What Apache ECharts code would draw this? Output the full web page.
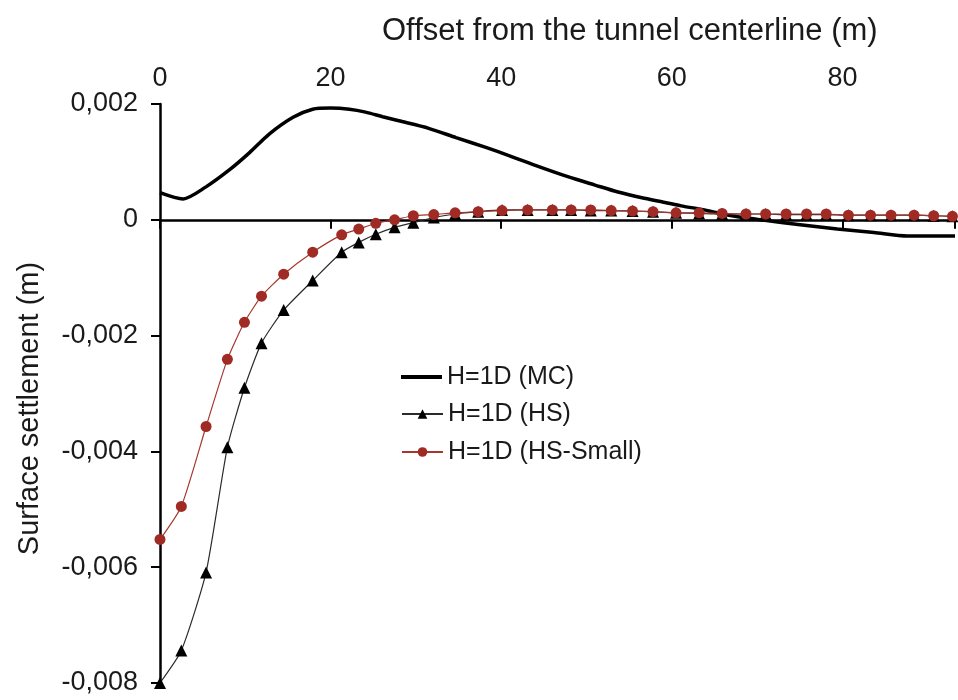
<!DOCTYPE html>
<html>
<head>
<meta charset="utf-8">
<script src="https://cdn.jsdelivr.net/npm/echarts@6/dist/echarts.min.js"></script>
<style>
  html, body { margin: 0; padding: 0; background: #fff; }
  #chart { width: 958px; height: 700px; }
</style>
</head>
<body>
<div id="chart"></div>
<script>
// Offsets (m) of the surface nodes used by the HS models
const nodeOffsets = [0, 2.5, 5.4, 7.9, 9.9, 11.9, 14.5, 17.9, 21.3, 23.3, 25.3, 27.5,
  29.7, 32.1, 34.6, 37.3, 40.1, 43.1, 46.0, 48.2, 50.5, 52.9, 55.4, 57.8, 60.5,
  63.2, 65.9, 68.7, 71.0, 73.4, 75.8, 78.1, 80.7, 83.3, 85.7, 88.4, 90.7, 92.9];

// H=1D (HS) surface settlement (m)
const settlementHS = [-0.00800, -0.00744, -0.00609, -0.00393, -0.00290, -0.00213, -0.00156,
  -0.00105, -0.00056, -0.00039, -0.00025, -0.00013, -0.00005, 0.00004, 0.00010, 0.00014,
  0.00017, 0.00017, 0.00017, 0.00017, 0.00016, 0.00016, 0.00015, 0.00014, 0.00012,
  0.00011, 0.00010, 0.00010, 0.00010, 0.00009, 0.00009, 0.00009, 0.00008, 0.00008,
  0.00008, 0.00008, 0.00007, 0.00006];

// H=1D (HS-Small) surface settlement (m)
const settlementHSSmall = [-0.00552, -0.00495, -0.00357, -0.00241, -0.00177, -0.00132, -0.00094,
  -0.00056, -0.00026, -0.00016, -0.00006, 0.00000, 0.00007, 0.00009, 0.00012, 0.00014,
  0.00016, 0.00017, 0.00017, 0.00017, 0.00017, 0.00016, 0.00015, 0.00014, 0.00012,
  0.00012, 0.00011, 0.00010, 0.00010, 0.00010, 0.00010, 0.00010, 0.00008, 0.00008,
  0.00008, 0.00008, 0.00007, 0.00006];

// H=1D (MC) profile: offsets (m) and settlement (m)
const offsetsMC = [0, 2.7, 5.3, 8.2, 10.5, 12.8, 15.6, 17.9, 20.0, 22.2, 24.1, 26.1, 28.0,
  31.5, 34.7, 38.2, 40.9, 44.0, 47.9, 51.0, 53.7, 56.5, 59.2, 61.1, 63.5, 65.0, 67.4,
  70.9, 74.8, 79.4, 83.7, 87.6, 92.7, 93.2];
const settlementMC = [0.00047, 0.00036, 0.00056, 0.00087, 0.00116, 0.00148, 0.00177, 0.00191,
  0.00193, 0.00191, 0.00186, 0.00178, 0.00171, 0.00158, 0.00142, 0.00125, 0.00111, 0.00094,
  0.00074, 0.00060, 0.00048, 0.00038, 0.00030, 0.00024, 0.00018, 0.00013, 0.00006,
  -0.00001, -0.00008, -0.00016, -0.00022, -0.00028, -0.00028, -0.00028];

const seriesNames = ['H=1D (MC)', 'H=1D (HS)', 'H=1D (HS-Small)'];
const xTicks = [0, 20, 40, 60, 80];

const pairs = (xs, ys) => xs.map((x, i) => [x, ys[i]]);
const FONT = '"Liberation Sans", Arial, Helvetica, sans-serif';
const TEXT = '#1a1a1a';
const X_MIN = 0, X_MAX = 93.2, X_STEP = xTicks[1] - xTicks[0];

const legendText = { fontFamily: FONT, fontSize: 25, color: TEXT, lineHeight: 26 };

const chart = echarts.init(document.getElementById('chart'), null, { renderer: 'canvas' });

chart.setOption({
  animation: false,
  backgroundColor: '#ffffff',
  title: {
    text: 'Offset from the tunnel centerline (m)',
    left: 377, top: 11,
    textStyle: { fontFamily: FONT, fontSize: 31, fontWeight: 'normal', color: TEXT }
  },
  grid: { left: 160, right: 0, top: 104, bottom: 17, containLabel: false },
  legend: [
    {
      // thick solid line key for the MC profile
      orient: 'vertical', left: 396, top: 359,
      itemWidth: 41, itemHeight: 4, icon: 'rect',
      data: [seriesNames[0]],
      textStyle: legendText
    },
    {
      orient: 'vertical', left: 396, top: 396,
      itemWidth: 41, itemHeight: 12, itemGap: 12,
      data: [seriesNames[1], seriesNames[2]],
      textStyle: legendText
    }
  ],
  xAxis: [
    {
      // label axis along the top edge
      type: 'value', position: 'top', min: X_MIN, max: X_MAX, interval: X_STEP,
      axisLine: { show: false, onZero: false },
      axisTick: { show: false },
      splitLine: { show: false },
      axisLabel: {
        margin: 12, fontFamily: FONT, fontSize: 27, color: TEXT,
        formatter: v => (xTicks.includes(v) ? String(v) : '')
      }
    },
    {
      // axis line drawn through zero settlement
      type: 'value', position: 'bottom', min: X_MIN, max: X_MAX, interval: X_STEP,
      axisLine: { show: true, onZero: true, lineStyle: { color: '#000', width: 2.5 } },
      axisTick: { show: true, length: 9, lineStyle: { color: '#000', width: 2 } },
      axisLabel: { show: false },
      splitLine: { show: false }
    }
  ],
  yAxis: {
    type: 'value', min: -0.008, max: 0.002, interval: 0.002,
    name: 'Surface settlement (m)',
    nameLocation: 'middle', nameGap: 116, nameRotate: 90,
    nameTextStyle: { fontFamily: FONT, fontSize: 29, color: TEXT, padding: [0, 30, 0, 0] },
    axisLine: { show: true, onZero: false, lineStyle: { color: '#000', width: 2.5 } },
    axisTick: { show: true, length: 9, lineStyle: { color: '#000', width: 2 } },
    splitLine: { show: false },
    axisLabel: {
      margin: 22, fontFamily: FONT, fontSize: 27, color: TEXT,
      formatter: v => (Math.abs(v) < 1e-9 ? '0' : v.toFixed(3).replace('.', ','))
    }
  },
  series: [
    {
      name: seriesNames[0], type: 'line', xAxisIndex: 1,
      data: pairs(offsetsMC, settlementMC),
      symbol: 'none', smooth: 0.25,
      lineStyle: { color: '#000', width: 3.5 },
      itemStyle: { color: '#000' },
      z: 2
    },
    {
      name: seriesNames[1], type: 'line', xAxisIndex: 1,
      data: pairs(nodeOffsets, settlementHS),
      symbol: 'triangle', symbolSize: 12, smooth: 0.2,
      lineStyle: { color: '#2b2b2b', width: 1.2 },
      itemStyle: { color: '#000' },
      z: 3
    },
    {
      name: seriesNames[2], type: 'line', xAxisIndex: 1,
      data: pairs(nodeOffsets, settlementHSSmall),
      symbol: 'circle', symbolSize: 11, smooth: 0.2,
      lineStyle: { color: '#a4382f', width: 1.2 },
      itemStyle: { color: '#a02a24' },
      z: 4
    }
  ]
});
</script>
</body>
</html>
